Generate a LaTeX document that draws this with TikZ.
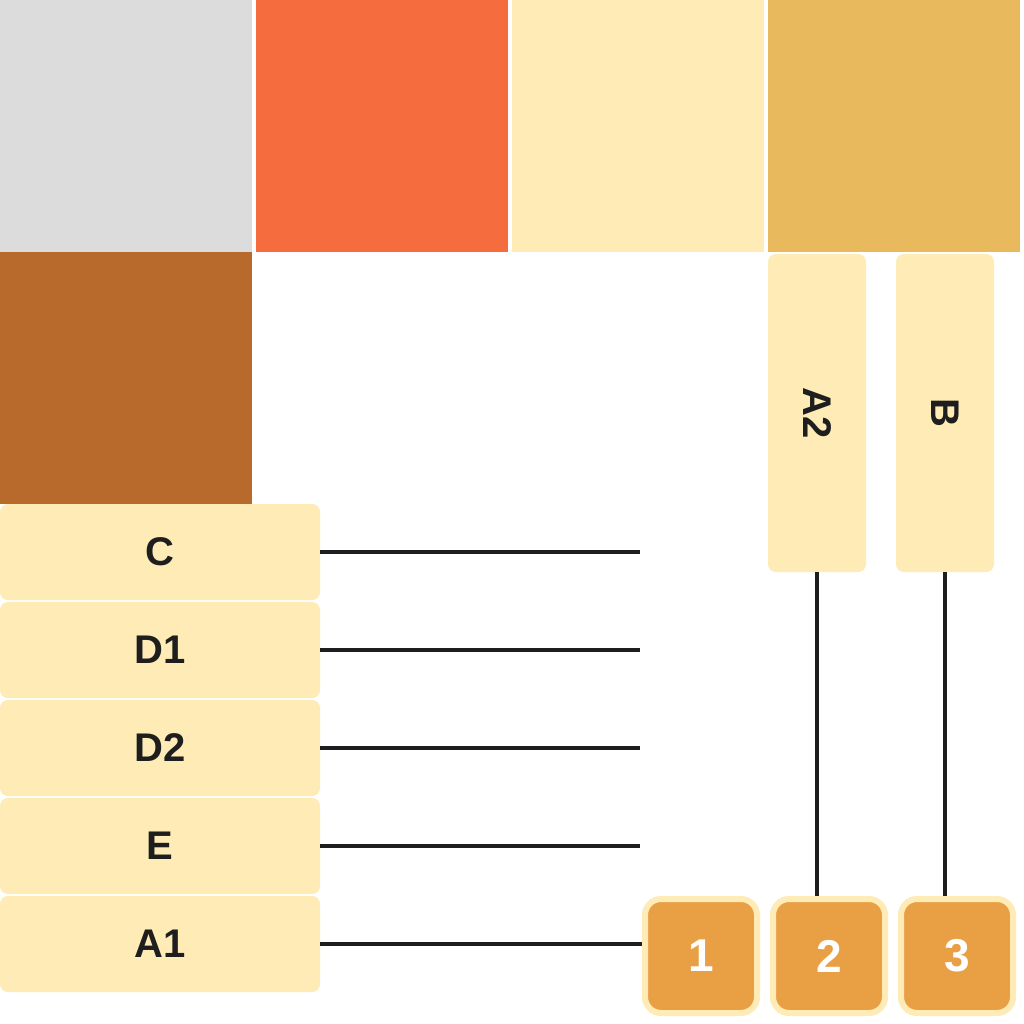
\documentclass[tikz,border=0pt]{standalone}
\usepackage{fontspec}
\setmainfont{Liberation Sans}
\definecolor{cgray}{HTML}{DCDCDC}
\definecolor{corange}{HTML}{F56C3F}
\definecolor{ccream}{HTML}{FEEBB5}
\definecolor{cgold}{HTML}{E9B95E}
\definecolor{cbrown}{HTML}{B86A2C}
\definecolor{cnum}{HTML}{E9A045}
\definecolor{cline}{HTML}{1E1E1E}
\begin{document}
\begin{tikzpicture}[x=1pt,y=-1pt,
  swatch/.style={rectangle,inner sep=0,minimum width=252pt,minimum height=252pt,anchor=north west},
  rowbox/.style={rectangle,rounded corners=8pt,fill=ccream,inner sep=0,minimum width=320pt,minimum height=96pt,font=\bfseries\fontsize{40}{44}\selectfont,text=cline},
  colbox/.style={rectangle,rounded corners=8pt,fill=ccream,inner sep=0,minimum width=98pt,minimum height=318pt,font=\bfseries\fontsize{40}{44}\selectfont,text=cline},
  numbox/.style={rectangle,rounded corners=16pt,fill=cnum,draw=ccream,line width=6pt,inner sep=0,minimum width=112pt,minimum height=114pt,font=\bfseries\fontsize{46}{50}\selectfont,text=white},
  link/.style={draw=cline,line width=4pt}]
\useasboundingbox (0,0) rectangle (1024,1024);
\fill[white] (0,0) rectangle (1024,1024);
% swatches
\node[swatch,fill=cgray] (s1) at (0,0) {};
\node[swatch,fill=corange] (s2) at (256,0) {};
\node[swatch,fill=ccream] (s3) at (512,0) {};
\node[swatch,fill=cgold] (s4) at (768,0) {};
\node[swatch,fill=cbrown] (s5) at (0,252) {};
% row boxes
\node[rowbox] (C) at (160,552) {C};
\node[rowbox] (D1) at (160,650) {D1};
\node[rowbox] (D2) at (160,748) {D2};
\node[rowbox] (E) at (160,846) {E};
\node[rowbox] (A1) at (160,944) {A1};
% column boxes
\node[colbox] (A2) at (817,413) {\rotatebox{-90}{A2}};
\node[colbox] (B) at (945,413) {\rotatebox{-90}{B}};
% number boxes
\node[numbox] (n1) at (701,956) {1};
\node[numbox] (n2) at (829,956) {2};
\node[numbox] (n3) at (957,956) {3};
% connectors
\coordinate (cC) at (640,552);
\coordinate (cD1) at (640,650);
\coordinate (cD2) at (640,748);
\coordinate (cE) at (640,846);
\draw[link] (C.east) -- (cC);
\draw[link] (D1.east) -- (cD1);
\draw[link] (D2.east) -- (cD2);
\draw[link] (E.east) -- (cE);
\draw[link] (A1.east) -- (A1.east -| n1.west);
\draw[link] (A2.south) -- (A2.south |- n2.north);
\draw[link] (B.south) -- (B.south |- n3.north);
\end{tikzpicture}
\end{document}
